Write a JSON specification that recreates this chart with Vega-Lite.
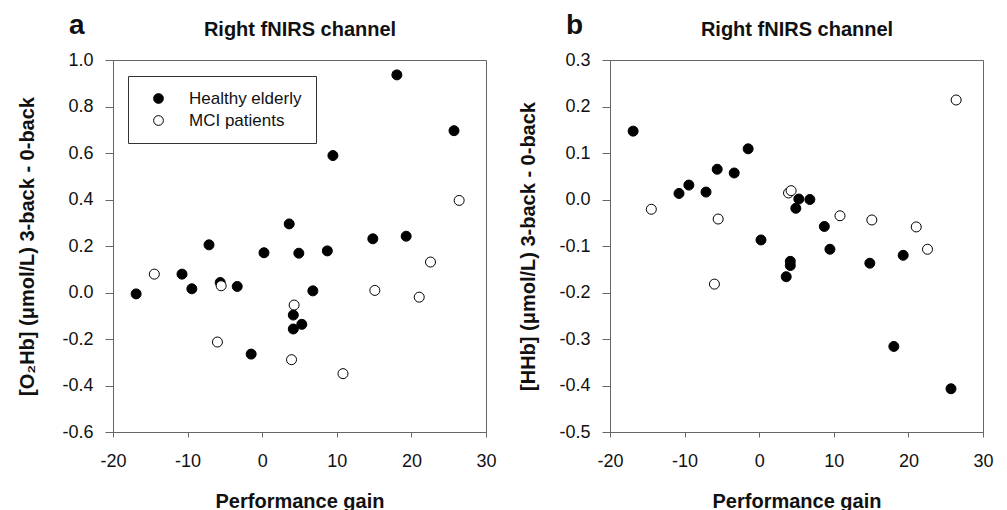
{
  "$schema": "https://vega.github.io/schema/vega-lite/v6.json",
  "padding": {"left": 17, "top": 11, "right": 5, "bottom": 0},
  "datasets": {
    "subjects": [
      {"gain": -16.9, "O2Hb": -0.006, "HHb": 0.147, "group": "Healthy elderly"},
      {"gain": -10.75, "O2Hb": 0.079, "HHb": 0.013, "group": "Healthy elderly"},
      {"gain": -9.43, "O2Hb": 0.016, "HHb": 0.031, "group": "Healthy elderly"},
      {"gain": -7.13, "O2Hb": 0.205, "HHb": 0.016, "group": "Healthy elderly"},
      {"gain": -5.63, "O2Hb": 0.043, "HHb": 0.065, "group": "Healthy elderly"},
      {"gain": -3.35, "O2Hb": 0.026, "HHb": 0.057, "group": "Healthy elderly"},
      {"gain": -1.48, "O2Hb": -0.265, "HHb": 0.109, "group": "Healthy elderly"},
      {"gain": 0.24, "O2Hb": 0.171, "HHb": -0.087, "group": "Healthy elderly"},
      {"gain": 3.62, "O2Hb": 0.295, "HHb": -0.166, "group": "Healthy elderly"},
      {"gain": 4.17, "O2Hb": -0.097, "HHb": -0.133, "group": "Healthy elderly"},
      {"gain": 4.17, "O2Hb": -0.157, "HHb": -0.142, "group": "Healthy elderly"},
      {"gain": 4.91, "O2Hb": 0.169, "HHb": -0.019, "group": "Healthy elderly"},
      {"gain": 5.31, "O2Hb": -0.137, "HHb": 0.001, "group": "Healthy elderly"},
      {"gain": 6.79, "O2Hb": 0.007, "HHb": 0.0, "group": "Healthy elderly"},
      {"gain": 8.73, "O2Hb": 0.179, "HHb": -0.058, "group": "Healthy elderly"},
      {"gain": 9.48, "O2Hb": 0.589, "HHb": -0.107, "group": "Healthy elderly"},
      {"gain": 14.83, "O2Hb": 0.231, "HHb": -0.137, "group": "Healthy elderly"},
      {"gain": 18.05, "O2Hb": 0.936, "HHb": -0.316, "group": "Healthy elderly"},
      {"gain": 19.3, "O2Hb": 0.242, "HHb": -0.12, "group": "Healthy elderly"},
      {"gain": 25.71, "O2Hb": 0.696, "HHb": -0.407, "group": "Healthy elderly"},
      {"gain": -14.46, "O2Hb": 0.079, "HHb": -0.021, "group": "MCI patients"},
      {"gain": -6.0, "O2Hb": -0.213, "HHb": -0.182, "group": "MCI patients"},
      {"gain": -5.5, "O2Hb": 0.029, "HHb": -0.042, "group": "MCI patients"},
      {"gain": 3.93, "O2Hb": -0.289, "HHb": 0.014, "group": "MCI patients"},
      {"gain": 4.28, "O2Hb": -0.054, "HHb": 0.019, "group": "MCI patients"},
      {"gain": 10.83, "O2Hb": -0.349, "HHb": -0.035, "group": "MCI patients"},
      {"gain": 15.1, "O2Hb": 0.009, "HHb": -0.044, "group": "MCI patients"},
      {"gain": 21.05, "O2Hb": -0.02, "HHb": -0.059, "group": "MCI patients"},
      {"gain": 22.56, "O2Hb": 0.131, "HHb": -0.107, "group": "MCI patients"},
      {"gain": 26.4, "O2Hb": 0.396, "HHb": 0.214, "group": "MCI patients"}
    ]
  },
  "spacing": 124,
  "bounds": "flush",
  "resolve": {"scale": {"fill": "independent"}},
  "hconcat": [
    {
      "width": 373,
      "height": 372,
      "title": {"text": "a", "anchor": "start", "frame": "group", "dx": -44, "fontSize": 28, "baseline": "alphabetic", "offset": -43},
      "data": {"name": "subjects"},
      "resolve": {"axis": {"x": "independent"}},
      "layer": [
        {
          "transform": [{"filter": "datum.group === 'Healthy elderly'"}],
          "mark": {"type": "point", "shape": "circle", "filled": true, "size": 100, "stroke": "black", "strokeWidth": 1, "opacity": 1},
          "encoding": {
            "x": {
              "field": "gain", "type": "quantitative",
              "scale": {"domain": [-20, 30], "nice": false, "zero": false},
              "axis": {"orient": "bottom", "title": "Performance gain", "values": [-20, -10, 0, 10, 20, 30], "tickSize": 5, "labelPadding": 15, "titlePadding": 21, "labelFlush": false,
                "labelExpr": "replace(format(datum.value, 'd'), '\u2212', '-')"}
            },
            "y": {
              "field": "O2Hb", "type": "quantitative",
              "scale": {"domain": [-0.6, 1.0], "nice": false, "zero": false},
              "axis": {"title": "[O₂Hb] (μmol/L) 3-back - 0-back", "values": [-0.6, -0.4, -0.2, 0, 0.2, 0.4, 0.6, 0.8, 1.0], "tickSize": 8, "labelPadding": 12, "titlePadding": 24,
                "labelExpr": "replace(format(datum.value, '.1f'), '\u2212', '-')"}
            },
            "fill": {
              "field": "group", "type": "nominal",
              "scale": {"domain": ["Healthy elderly", "MCI patients"], "range": ["black", "white"]},
              "legend": {"orient": "none", "legendX": 15, "legendY": 16, "title": null, "strokeColor": "#333", "fillColor": "white", "padding": 14,
                "labelFontSize": 17, "labelOffset": 22, "symbolOffset": 8, "rowPadding": 4, "symbolType": "circle", "symbolSize": 95,
                "symbolStrokeColor": "black", "symbolStrokeWidth": 1, "labelColor": "#111"}
            }
          }
        },
        {
          "transform": [{"filter": "datum.group === 'MCI patients'"}],
          "mark": {"type": "point", "shape": "circle", "filled": true, "size": 100, "stroke": "black", "strokeWidth": 1, "opacity": 1},
          "encoding": {
            "x": {
              "field": "gain", "type": "quantitative",
              "scale": {"domain": [-20, 30], "nice": false, "zero": false},
              "axis": {"orient": "top", "title": "Right fNIRS channel", "labels": false, "ticks": false, "domain": false, "titlePadding": 21}
            },
            "y": {"field": "O2Hb", "type": "quantitative", "scale": {"domain": [-0.6, 1.0], "nice": false, "zero": false}},
            "fill": {"field": "group", "type": "nominal"}
          }
        }
      ]
    },
    {
      "width": 373,
      "height": 372,
      "title": {"text": "b", "anchor": "start", "frame": "group", "dx": -44, "fontSize": 28, "baseline": "alphabetic", "offset": -43},
      "data": {"name": "subjects"},
      "resolve": {"axis": {"x": "independent"}},
      "layer": [
        {
          "transform": [{"filter": "datum.group === 'Healthy elderly'"}],
          "mark": {"type": "point", "shape": "circle", "filled": true, "size": 100, "stroke": "black", "strokeWidth": 1, "opacity": 1},
          "encoding": {
            "x": {
              "field": "gain", "type": "quantitative",
              "scale": {"domain": [-20, 30], "nice": false, "zero": false},
              "axis": {"orient": "bottom", "title": "Performance gain", "values": [-20, -10, 0, 10, 20, 30], "tickSize": 5, "labelPadding": 15, "titlePadding": 21, "labelFlush": false,
                "labelExpr": "replace(format(datum.value, 'd'), '\u2212', '-')"}
            },
            "y": {
              "field": "HHb", "type": "quantitative",
              "scale": {"domain": [-0.5, 0.3], "nice": false, "zero": false},
              "axis": {"title": "[HHb] (μmol/L) 3-back - 0-back", "values": [-0.5, -0.4, -0.3, -0.2, -0.1, 0, 0.1, 0.2, 0.3], "tickSize": 8, "labelPadding": 12, "titlePadding": 20,
                "labelExpr": "replace(format(datum.value, '.1f'), '\u2212', '-')"}
            },
            "fill": {
              "field": "group", "type": "nominal",
              "scale": {"domain": ["Healthy elderly", "MCI patients"], "range": ["black", "white"]},
              "legend": null
            }
          }
        },
        {
          "transform": [{"filter": "datum.group === 'MCI patients'"}],
          "mark": {"type": "point", "shape": "circle", "filled": true, "size": 100, "stroke": "black", "strokeWidth": 1, "opacity": 1},
          "encoding": {
            "x": {
              "field": "gain", "type": "quantitative",
              "scale": {"domain": [-20, 30], "nice": false, "zero": false},
              "axis": {"orient": "top", "title": "Right fNIRS channel", "labels": false, "ticks": false, "domain": false, "titlePadding": 21}
            },
            "y": {"field": "HHb", "type": "quantitative", "scale": {"domain": [-0.5, 0.3], "nice": false, "zero": false}},
            "fill": {"field": "group", "type": "nominal", "legend": null}
          }
        }
      ]
    }
  ],
  "config": {
    "font": "Liberation Sans",
    "view": {"stroke": "#666", "strokeWidth": 1},
    "title": {"fontWeight": "bold", "color": "#111"},
    "axis": {
      "grid": false,
      "domainColor": "#666",
      "tickColor": "#666",
      "labelColor": "#111",
      "titleColor": "#111",
      "labelFontSize": 18,
      "titleFontSize": 20,
      "titleFontWeight": "bold"
    }
  }
}
